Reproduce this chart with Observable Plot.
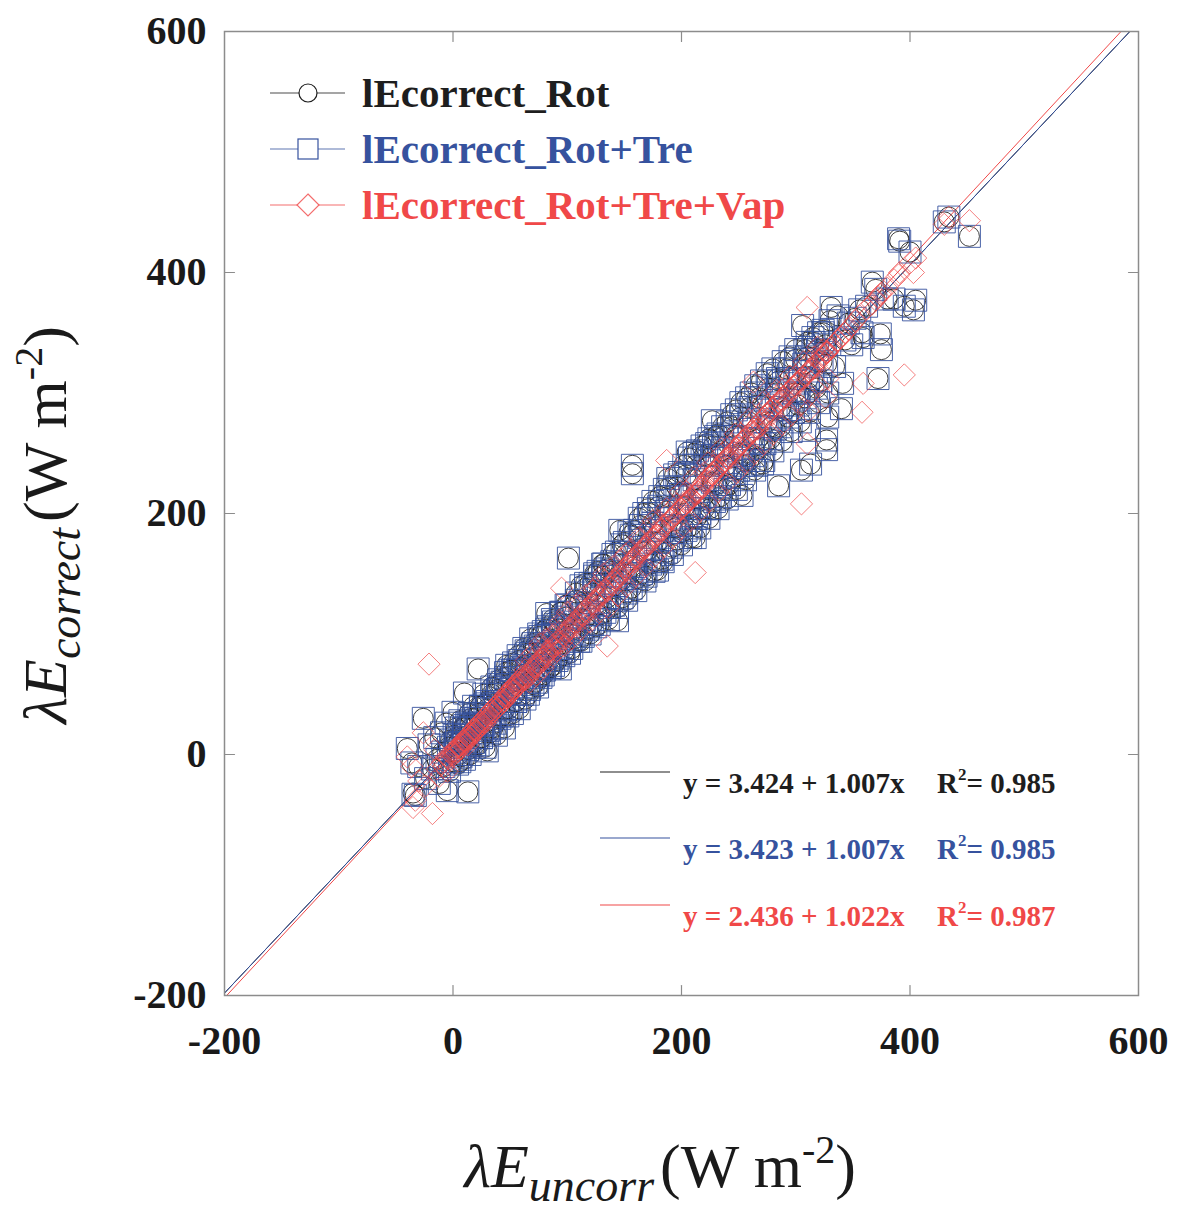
<!DOCTYPE html>
<html><head><meta charset="utf-8">
<script src="https://cdn.jsdelivr.net/npm/d3@7"></script>
<script src="https://cdn.jsdelivr.net/npm/@observablehq/plot@0.6"></script>
<style>
html,body{margin:0;padding:0;background:#fff;overflow:hidden}
</style></head><body><div id="chart"></div>
<script>
// ---- data ----
const seriesNames = ["lEcorrect_Rot", "lEcorrect_Rot+Tre", "lEcorrect_Rot+Tre+Vap"];
const seriesColors = ["#1e1e1e", "#36529e", "#f04848"];
const fitIntercepts = [3.424, 3.423, 2.436];
const fitSlopes = [1.007, 1.007, 1.022];
const fitR2 = [0.985, 0.985, 0.987];
const axisTicks = [-200, 0, 200, 400, 600];

const lambdaEUncorr = [
-40,-36,-35,-33,-30,-26,-24,-21,-18,-16,
-14,-12,-10,-9,-8,-6,-5,-4,-3,-2,
0,0,1,2,3,4,5,6,7,8,
10,10,12,13,14,15,16,18,19,20,
22,22,24,25,27,28,30,30,32,34,
35,37,38,40,41,43,45,46,47,48,
50,52,53,55,57,58,60,62,63,65,
66,68,70,72,74,75,77,79,80,82,
83,85,87,88,90,92,94,95,97,99,
101,102,104,106,108,110,112,114,116,118,
120,122,124,125,127,129,131,133,135,137,
139,141,143,144,146,148,150,152,154,156,
157,157,159,161,163,165,167,169,171,173,
175,177,179,181,183,185,187,188,190,192,
194,196,198,200,202,204,205,207,209,211,
212,213,214,216,218,220,222,224,225,227,
227,229,230,232,234,236,238,240,242,244,
246,248,250,252,253,255,257,259,261,263,
265,266,268,270,271,273,275,278,280,282,
285,285,287,289,293,295,298,300,302,305,
306,308,310,310,311,312,313,315,318,320,
322,324,326,327,327,328,330,331,334,337,
340,341,343,346,349,352,356,358,359,362,
367,370,372,374,375,380,386,390,391,395,
400,403,405,430,434,452,
2,5,9,12,15,18,21,24,27,30,
33,36,39,42,45,48,51,54,57,60,
63,66,69,72,75,78,81,84,87,90,
93,96,99,103,107,111,115,119,123,127,
131,135,139,143,147,151,155,159,163,167,
171,175,179,183,187,191,195,199,203,207,
211,215,219,223,227,231,235,239,243,247,
251,255,259,263,267,271,275,279,283,287,
291,295,299,303,307,311,315,319,323,327,
3,6,10,13,16,19,22,25,28,31,
34,37,40,43,46,49,52,55,58,61,
64,67,70,73,76,79,82,85,88,91,
94,97,100,104,108,112,116,120,124,128,
132,136,140,144,148,152,156,160,164,168,
172,176,180,184,188,192,196,200,204,208,
212,216,220,224,228,232,236,240,244,248,
252,256,260,264,268,272,276,280,284,288,
292,296,300,304,308,312,316,320,324,328];

const lambdaERot = [
5,-7,-32,-34,-10,30,-20,8,-12,14,
-4,-24,18,2,-10,26,-30,6,-14,12,
35,-6,16,2,22,-8,10,28,-2,14,
51,-4,26,-31,34,0,22,40,6,30,
71,8,40,14,50,6,3,44,18,56,
22,52,16,62,30,60,22,68,74,32,
70,34,76,44,82,38,72,88,46,84,
50,96,58,90,56,100,64,102,70,117,
106,72,112,74,108,80,71,118,86,124,
163,84,122,96,128,94,140,98,138,104,
142,108,150,106,152,116,158,118,154,122,
160,124,168,111,186,130,176,134,184,138,
240,233,186,146,196,150,200,148,204,158,
210,160,153,214,162,220,168,229,222,172,
232,178,234,184,240,186,251,246,190,250,
180,196,252,200,256,204,258,262,204,277,
248,210,264,266,214,272,220,276,224,282,
230,286,236,292,215,240,296,244,300,248,
306,240,254,310,241,258,316,262,320,270,
223,310,272,326,280,330,284,336,290,236,
356,296,342,330,300,269,241,346,304,350,
310,352,340,253,261,280,360,371,322,364,
287,308,344,358,340,362,369,350,346,372,
392,386,312,349,336,378,378,428,426,372,
417,369,377,442,446,430,
9,0,22,12,25,10,26,40,25,38,
28,42,54,42,37,58,55,50,70,62,
74,60,84,70,66,92,80,78,100,88,
104,92,114,100,104,126,112,116,136,124,
148,130,152,140,144,166,150,156,180,168,
170,192,176,186,202,190,188,216,206,204,
228,212,214,240,226,224,252,240,238,264,
250,248,276,262,262,290,276,272,300,288,
286,312,300,300,324,312,310,336,326,324,
14,-6,24,4,30,8,34,14,42,20,
50,26,58,32,64,38,70,44,78,50,
86,54,92,60,98,66,104,72,110,78,
118,82,124,88,134,94,142,100,148,108,
158,112,166,122,174,128,182,136,190,144,
200,152,206,160,214,166,222,174,232,180,
240,188,248,196,256,204,264,212,272,220,
280,228,288,236,296,244,304,252,312,260,
320,268,328,276,336,284,342,292,350,300];

const lambdaERotTre = [
5,-7,-33,-34,-10,30,-20,8,-12,14,
-4,-24,18,2,-10,26,-30,6,-14,12,
35,-6,16,2,22,-8,10,28,-2,14,
51,-4,26,-31,34,0,22,40,6,30,
71,8,40,14,50,6,3,44,18,56,
22,52,16,62,30,60,22,68,74,32,
70,34,76,44,82,38,72,88,46,84,
50,96,58,90,56,100,64,102,70,117,
106,72,112,74,108,80,71,118,86,124,
163,84,122,96,128,94,140,98,138,104,
142,108,150,106,152,116,158,118,154,122,
160,124,168,111,186,130,176,134,184,138,
240,233,186,146,196,150,200,148,204,158,
210,160,153,214,162,220,168,229,222,172,
232,178,234,184,240,186,251,246,190,250,
180,196,252,200,256,204,258,262,204,277,
248,210,264,266,214,272,220,276,224,282,
230,286,236,292,215,240,296,244,300,248,
306,240,254,310,241,258,316,262,320,270,
223,310,272,326,280,330,284,336,290,236,
356,296,342,330,300,269,241,346,304,350,
310,352,340,253,261,280,360,371,322,364,
287,308,344,358,340,362,369,350,346,372,
392,386,312,349,336,378,378,428,426,372,
417,369,377,442,446,430,
9,0,22,12,25,10,26,40,25,38,
28,42,54,42,37,58,55,50,70,62,
74,60,84,70,66,92,80,78,100,88,
104,92,114,100,104,126,112,116,136,124,
148,130,152,140,144,166,150,156,180,168,
170,192,176,186,202,190,188,216,206,204,
228,212,214,240,226,224,252,240,238,264,
250,248,276,262,262,290,276,272,300,288,
286,312,300,300,324,312,310,336,326,324,
14,-6,24,4,30,8,34,14,42,20,
50,26,58,32,64,38,70,44,78,50,
86,54,92,60,98,66,104,72,110,78,
118,82,124,88,134,94,142,100,148,108,
158,112,166,122,174,128,182,136,190,144,
200,152,206,160,214,166,222,174,232,180,
240,188,248,196,256,204,264,212,272,220,
280,228,288,236,296,244,304,252,312,260,
320,268,328,276,336,284,342,292,350,300];

const lambdaERotTreVap = [
-2,-10,-44,-38,-22,18,-26,75,-49,4,
-12,-18,-8,-6,-10,-2,-14,-3,-4,0,
2,-1,3,1,5,2,6,7,5,8,
11,9,12,8,14,13,16,17,18,20,
21,22,24,25,27,26,28,30,32,34,
35,37,38,40,41,43,44,47,48,48,
50,52,54,55,58,58,61,63,62,66,
65,70,71,74,73,78,78,81,80,86,
85,86,90,88,93,93,92,138,99,102,
105,103,106,110,110,113,116,115,119,122,
121,125,128,127,130,133,133,137,90,140,
141,145,145,142,150,152,154,153,158,159,
162,160,163,164,168,168,171,172,176,176,
180,181,182,186,187,190,244,192,195,196,
199,200,203,204,207,208,210,212,213,216,
151,216,218,222,222,226,227,230,231,232,
234,234,236,238,239,242,243,246,247,250,
251,254,256,258,260,261,263,265,268,309,
272,270,275,277,278,280,283,285,288,290,
291,292,295,297,300,302,305,308,308,208,
312,314,371,258,285,318,320,322,323,327,
329,330,296,333,334,334,337,338,341,344,
346,348,350,353,356,360,364,284,308,370,
374,377,380,382,383,387,394,398,400,315,
408,400,412,440,446,443,
4,8,11,15,17,21,24,27,30,33,
36,39,42,45,48,51,54,58,60,64,
70,64,78,72,74,88,82,82,98,90,
102,94,112,104,106,124,116,118,136,128,
146,136,150,146,148,166,156,160,180,172,
174,194,182,190,204,196,194,218,210,210,
230,218,222,242,232,232,254,246,246,266,
256,256,278,268,270,292,282,282,302,294,
296,314,306,310,326,318,320,338,332,334,
6,5,12,15,18,21,25,27,31,34,
37,40,43,46,50,52,56,58,62,65,
78,60,84,66,92,72,96,80,100,86,
110,90,118,96,124,104,132,110,138,118,
150,122,156,132,162,140,170,148,178,156,
188,164,194,172,200,180,208,188,218,194,
226,202,234,210,240,218,250,226,258,234,
266,242,274,250,282,258,290,266,298,274,
306,282,314,290,322,298,330,306,336,312];

// ---- build tables ----
const points = lambdaEUncorr.map((x, i) => ({
  x, rot: lambdaERot[i], rotTre: lambdaERotTre[i], vap: lambdaERotTreVap[i]
}));
const xDomain = [axisTicks[0], axisTicks[axisTicks.length - 1]];
const fitLines = seriesNames.flatMap((s, i) =>
  xDomain.map(x => ({series: s, x, y: fitIntercepts[i] + fitSlopes[i] * x})));

const SERIF = "'Liberation Serif', 'Times New Roman', 'DejaVu Serif', serif";
const innerTicks = axisTicks.slice(1, -1);
const tickShape = {draw(context, l) { context.moveTo(0, 0); context.lineTo(0, -l); }};
const tickOpts = {length: 10, anchor: "start", shape: tickShape, stroke: "#8c8c8c", strokeWidth: 1.2};

const plot = Plot.plot({
  width: 1180, height: 1210,
  marginLeft: 224, marginRight: 42, marginTop: 31, marginBottom: 215,
  x: {domain: xDomain},
  y: {domain: xDomain},
  color: {domain: seriesNames, range: seriesColors},
  style: {fontFamily: SERIF, background: "#fff", color: "#111"},
  marks: [
    Plot.line(fitLines, {x: "x", y: "y", z: "series", stroke: "series", strokeWidth: 1, clip: true}),
    Plot.dot(points, {x: "x", y: "rot", symbol: "circle", r: 10, stroke: seriesColors[0], strokeWidth: 1, fill: "none", strokeOpacity: 0.85}),
    Plot.dot(points, {x: "x", y: "rotTre", symbol: "square", r: 12.4, stroke: seriesColors[1], strokeWidth: 1, fill: "none", strokeOpacity: 0.9}),
    Plot.dot(points, {x: "x", y: "vap", symbol: "diamond2", r: 10, stroke: seriesColors[2], strokeWidth: 1, fill: "none", strokeOpacity: 0.7}),
    Plot.frame({stroke: "#8c8c8c", strokeWidth: 1.5}),
    Plot.vector(innerTicks, {x: d => d, frameAnchor: "bottom", rotate: 0, ...tickOpts}),
    Plot.vector(innerTicks, {x: d => d, frameAnchor: "top", rotate: 180, ...tickOpts}),
    Plot.vector(innerTicks, {y: d => d, frameAnchor: "left", rotate: 90, ...tickOpts}),
    Plot.vector(innerTicks, {y: d => d, frameAnchor: "right", rotate: 270, ...tickOpts}),
    Plot.axisX(axisTicks, {anchor: "bottom", tickSize: 0, tickPadding: 30, tickFormat: d => String(d),
      fontSize: 40, fontWeight: "bold", fill: "#1a1a1a", label: null}),
    Plot.axisY(axisTicks, {anchor: "left", tickSize: 0, tickPadding: 18, tickFormat: d => String(d),
      fontSize: 40, fontWeight: "bold", fill: "#1a1a1a", label: null})
  ]
});
document.getElementById("chart").append(plot);

// ---- legends and axis titles ----
const svg = d3.select(plot);
const g = svg.append("g").attr("font-family", SERIF).attr("text-anchor", "start");

// series legend (top-left)
const legRowY = [93, 149, 205];
seriesNames.forEach((name, i) => {
  const cy = legRowY[i], cx = 308, col = seriesColors[i];
  g.append("line").attr("x1", 270).attr("x2", 345).attr("y1", cy).attr("y2", cy)
    .attr("stroke", col).attr("stroke-width", 1.2).attr("stroke-opacity", 0.8);
  if (i === 0) g.append("circle").attr("cx", cx).attr("cy", cy).attr("r", 9)
    .attr("fill", "#fff").attr("stroke", col).attr("stroke-width", 1.2);
  if (i === 1) g.append("rect").attr("x", cx - 10).attr("y", cy - 10).attr("width", 20).attr("height", 20)
    .attr("fill", "#fff").attr("stroke", col).attr("stroke-width", 1.2);
  if (i === 2) g.append("path").attr("d", `M${cx},${cy-11}L${cx+11},${cy}L${cx},${cy+11}L${cx-11},${cy}Z`)
    .attr("fill", "#fff").attr("stroke", col).attr("stroke-width", 1.2).attr("stroke-opacity", 0.8);
  g.append("text").attr("x", 362).attr("y", cy + 14).attr("font-size", 41).attr("font-weight", "bold")
    .attr("fill", col).text(name);
});

// regression legend
const eqRowY = [772, 838, 905];
seriesNames.forEach((name, i) => {
  const ly = eqRowY[i], col = seriesColors[i];
  g.append("line").attr("x1", 600).attr("x2", 670).attr("y1", ly).attr("y2", ly)
    .attr("stroke", col).attr("stroke-width", 1.2);
  g.append("text").attr("x", 683).attr("y", ly + 21).attr("font-size", 29).attr("font-weight", "bold")
    .attr("fill", col)
    .text(`y = ${fitIntercepts[i].toFixed(3)} + ${fitSlopes[i].toFixed(3)}x`);
  const t = g.append("text").attr("x", 937).attr("y", ly + 21).attr("font-size", 29)
    .attr("font-weight", "bold").attr("fill", col);
  t.append("tspan").text("R");
  t.append("tspan").attr("font-size", 17).attr("dy", -13).text("2");
  t.append("tspan").attr("dy", 13).text(`= ${fitR2[i].toFixed(3)}`);
});

// axis titles
function axisTitle(sel, sub) {
  sel.attr("font-size", 62).attr("fill", "#1a1a1a").attr("text-anchor", "middle");
  sel.append("tspan").attr("font-style", "italic").text("\u03BBE");
  sel.append("tspan").attr("font-style", "italic").attr("font-size", 46).attr("dy", 14).text(sub);
  sel.append("tspan").attr("dy", -14).attr("dx", 6).text("(W m");
  sel.append("tspan").attr("font-size", 40).attr("dy", -24).text("-2");
  sel.append("tspan").attr("dy", 24).text(")");
}
axisTitle(g.append("text").attr("x", 660).attr("y", 1187), "uncorr");
axisTitle(g.append("text").attr("transform", "translate(66,525) rotate(-90)"), "correct");
</script>
</body></html>
